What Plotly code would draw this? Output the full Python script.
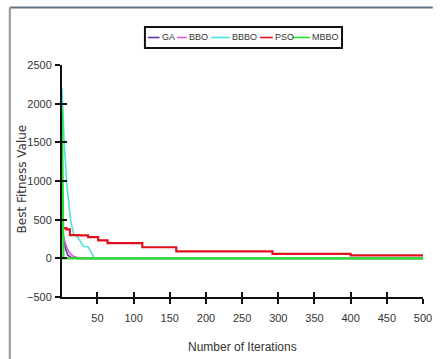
import plotly.graph_objects as go

# ---- data ----
ga_iter = [1, 3, 6, 9, 14, 22, 500]
ga_val = [400, 260, 120, 40, 10, 0, 0]

bbo_iter = [1, 4, 8, 12, 18, 26, 500]
bbo_val = [330, 230, 130, 60, 20, 0, 0]

bbbo_iter = [1, 4, 8, 13, 17, 24, 31, 37, 46, 500]
bbbo_val = [2200, 1500, 925, 490, 320, 257, 152, 150, 0, 0]

pso_iter = [1, 7, 12, 24, 37, 51, 64, 112, 159, 292, 400, 500]
pso_val = [390, 374, 300, 296, 274, 231, 196, 143, 91, 57, 38, 33]

mbbo_iter = [1, 3, 500]
mbbo_val = [1950, 0, 0]

series_names = ["GA", "BBO", "BBBO", "PSO", "MBBO"]
series_colors = ["#6b2fa0", "#d65ad6", "#4fe0e0", "#e0101e", "#27e027"]

x_ticks = [50, 100, 150, 200, 250, 300, 350, 400, 450, 500]
y_ticks = [-500, 0, 500, 1000, 1500, 2000, 2500]

FONT = "Liberation Sans, Arial"

# ---- figure ----
W, H = 442, 359
ML, MR, MT, MB = 62, 10, 65, 62
PW, PH = W - ML - MR, H - MT - MB

def px(x):
    return (x - ML) / PW

def py(y):
    return (H - MB - y) / PH

fig = go.Figure()
data = [
    (ga_iter, ga_val, 1.6, "linear"),
    (bbo_iter, bbo_val, 1.6, "linear"),
    (bbbo_iter, bbbo_val, 1.6, "linear"),
    (pso_iter, pso_val, 2.2, "hv"),
    (mbbo_iter, mbbo_val, 2.2, "linear"),
]
for (xs, ys, lw, shp), name, col in zip(data, series_names, series_colors):
    fig.add_trace(go.Scatter(x=xs, y=ys, mode="lines", name=name,
                             line=dict(color=col, width=lw, shape=shp),
                             showlegend=False))

# overlay axes carry the inner halves of the tick marks
fig.add_trace(go.Scatter(x=[None], y=[None], xaxis="x2", yaxis="y2",
                         showlegend=False, hoverinfo="skip"))

axis_common = dict(showgrid=False, zeroline=False, showline=True,
                   linecolor="#111", linewidth=2, ticks="outside",
                   ticklen=5, tickwidth=2, tickcolor="#111",
                   tickfont=dict(family=FONT, size=11, color="#333"))

fig.update_layout(
    width=W, height=H,
    margin=dict(l=ML, r=MR, t=MT, b=MB),
    paper_bgcolor="white", plot_bgcolor="white",
    xaxis=dict(range=[1, 500], tickvals=x_ticks, ticklabelstandoff=5,
               **axis_common),
    yaxis=dict(range=[-500, 2500], tickvals=y_ticks, ticklabelstandoff=1,
               **axis_common),
    xaxis2=dict(overlaying="x", matches="x", anchor="y", side="bottom",
                tickvals=x_ticks, ticks="inside", ticklen=5, tickwidth=2,
                tickcolor="#111", showticklabels=False, showline=False,
                showgrid=False, zeroline=False),
    yaxis2=dict(overlaying="y", matches="y", anchor="x", side="left",
                tickvals=y_ticks, ticks="inside", ticklen=5, tickwidth=2,
                tickcolor="#111", showticklabels=False, showline=False,
                showgrid=False, zeroline=False),
    showlegend=False,
)

shapes = []
annotations = []
# axis titles
annotations.append(dict(x=0.5, y=py(346.5), xref="paper", yref="paper",
                        text="Number of Iterations", showarrow=False,
                        xanchor="center", yanchor="middle",
                        font=dict(family=FONT, size=12, color="#333")))
annotations.append(dict(x=px(21.5), y=py(179), xref="paper", yref="paper",
                        text="Best Fitness Value", showarrow=False, textangle=-90,
                        xanchor="center", yanchor="middle",
                        font=dict(family="DejaVu Sans", size=12, color="#333")))
# panel border (top & left)
shapes.append(dict(type="line", xref="paper", yref="paper",
                   x0=px(8.5), x1=px(442), y0=py(7.5), y1=py(7.5),
                   line=dict(color="#5f7480", width=2)))
shapes.append(dict(type="line", xref="paper", yref="paper",
                   x0=px(8.5), x1=px(8.5), y0=py(7.5), y1=py(359),
                   line=dict(color="#8a979e", width=2)))
# manual legend
shapes.append(dict(type="rect", xref="paper", yref="paper",
                   x0=px(147), x1=px(349), y0=py(48), y1=py(27),
                   line=dict(color="#111", width=2), fillcolor="white"))
leg_lines = [(150, 162), (180, 190), (215, 234), (265, 278), (298, 316)]
for (a, b), name, col in zip(leg_lines, series_names, series_colors):
    shapes.append(dict(type="line", xref="paper", yref="paper",
                       x0=px(a), x1=px(b), y0=py(37.5), y1=py(37.5),
                       line=dict(color=col, width=1.6)))
    annotations.append(dict(x=px(b + 0.5), y=py(37.5), xref="paper", yref="paper",
                            text=name, showarrow=False, xanchor="left",
                            yanchor="middle",
                            font=dict(family=FONT, size=9, color="#333")))
fig.update_layout(shapes=shapes, annotations=annotations)

fig.write_html("out.html")
